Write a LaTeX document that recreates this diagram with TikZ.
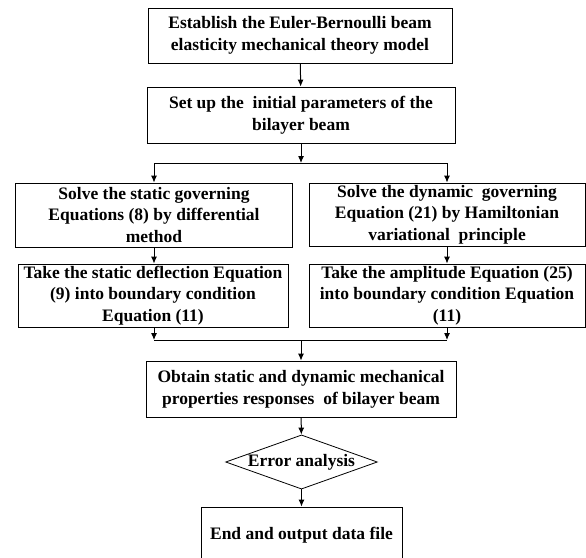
\documentclass[tikz,border=0pt]{standalone}
\usepackage{fontspec}
\setmainfont{Liberation Serif}
\usetikzlibrary{shapes.geometric,arrows.meta}

\begin{document}
\begin{tikzpicture}
  [x=1pt,y=-1pt,
   block/.style={rectangle,draw=black,line width=0.8pt,align=center,inner sep=0pt,
     font=\fontsize{17.5}{21.7}\selectfont\bfseries},
   check/.style={diamond,draw=black,line width=0.8pt,aspect=2.8,inner sep=0pt,
     font=\fontsize{17.5}{21.7}\selectfont\bfseries},
   flow/.style={-{Latex[length=7pt,width=6pt]},line width=1pt}]
\useasboundingbox (0,0) rectangle (586,557); % fix page size
\clip (0,0) rectangle (586,557);
\node at (300,35.5) (model) [block, minimum width=304pt, minimum height=55pt]
  {Establish the Euler-Bernoulli beam\\elasticity mechanical theory model};
\node at (301,115) (param) [block, minimum width=308pt, minimum height=56pt]
  {Set up the \ initial parameters of the\\bilayer beam};
\node at (154,215) (static) [block, minimum width=277pt, minimum height=64pt]
  {Solve the static governing\\Equations (8) by differential\\method};
\node at (447,214.5) (dynamic) [block, minimum width=276pt, minimum height=63pt]
  {Solve the dynamic \ governing\\Equation (21) by Hamiltonian\\variational \ principle};
\node at (153,295.5) (deflect) [block, minimum width=270pt, minimum height=63pt]
  {Take the static deflection Equation\\(9) into boundary condition\\Equation (11)};
\node at (447,295.5) (amplit) [block, minimum width=276pt, minimum height=63pt]
  {Take the amplitude Equation (25)\\into boundary condition Equation\\(11)};
\node at (301,389) (respon) [block, minimum width=310pt, minimum height=56pt]
  {Obtain static and dynamic mechanical\\properties responses \ of bilayer beam};
\node at (301.5,462) (error) [check] {Error analysis};
\node at (301.5,535) (output) [block, minimum width=201pt, minimum height=56pt]
  {End and output data file};
\coordinate (split) at (301,163);
\coordinate (merge) at (301,340);
%
\draw [flow] (model) -- (param);
\draw [flow] (param) -- (split);
\draw [flow] (split) -| (static);
\draw [flow] (split) -| (dynamic);
\draw [flow] (static) -- (static |- deflect.north);
\draw [flow] (dynamic) -- (amplit);
\draw [flow] (static |- deflect.south) -- (static |- merge);
\draw [flow] (amplit) -- (amplit |- merge);
\draw [line width=1pt] (static |- merge) -- (amplit |- merge);
\draw [flow] (merge) -- (respon);
\draw [flow] (respon) -- (error);
\draw [flow] (error) -- (output);
\end{tikzpicture}
\end{document}
